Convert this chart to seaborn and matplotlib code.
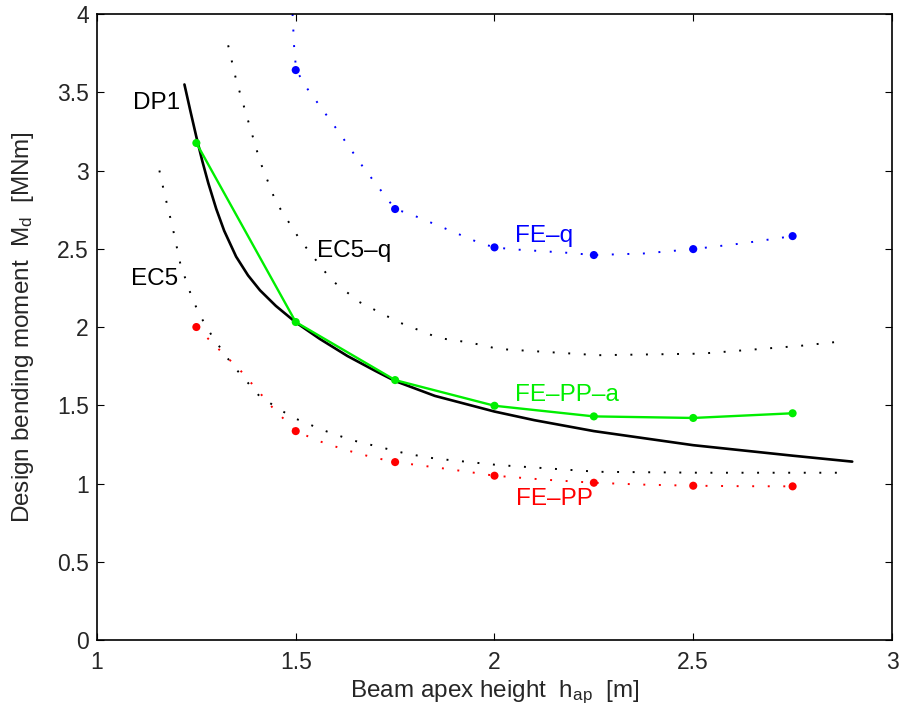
import numpy as np
import pandas as pd
import matplotlib
matplotlib.use("Agg")
import matplotlib.pyplot as plt
import seaborn as sns

# values
# DP1 (solid black curve)
dp1_x = [1.22, 1.235, 1.25, 1.265, 1.28, 1.30, 1.32, 1.35, 1.38, 1.41, 1.45, 1.50, 1.56, 1.63, 1.70, 1.75, 1.85, 2.00, 2.10, 2.25, 2.50, 2.75, 2.90]
dp1_y = [3.55, 3.38, 3.215, 3.06, 2.92, 2.755, 2.615, 2.45, 2.33, 2.235, 2.135, 2.03, 1.925, 1.815, 1.72, 1.655, 1.56, 1.46, 1.405, 1.335, 1.245, 1.178, 1.14]

# EC5-q (dotted black)
ec5q_x = [1.33, 1.35, 1.38, 1.41, 1.45, 1.51, 1.59, 1.66, 1.76, 1.86, 1.94, 2.01, 2.26, 2.52, 2.77, 2.88]
ec5q_y = [3.80, 3.58, 3.32, 3.06, 2.80, 2.56, 2.30, 2.16, 2.03, 1.93, 1.90, 1.86, 1.82, 1.83, 1.88, 1.91]

# EC5 (dotted black)
ec5_x = [1.157, 1.17, 1.19, 1.21, 1.24, 1.26, 1.29, 1.34, 1.41, 1.49, 1.57, 1.64, 1.78, 1.85, 2.01, 2.26, 2.52, 2.88]
ec5_y = [3.00, 2.85, 2.64, 2.40, 2.18, 2.07, 1.94, 1.76, 1.555, 1.425, 1.34, 1.278, 1.19, 1.16, 1.118, 1.075, 1.069, 1.069]

# FE-q (blue): markers + dotted fit curve
feq_x = [1.5, 1.75, 2.0, 2.25, 2.5, 2.75]
feq_y = [3.642, 2.754, 2.509, 2.46, 2.498, 2.581]
feq_cx = [1.492, 1.496, 1.501, 1.53, 1.61, 1.67, 1.75, 1.79, 1.89, 1.96, 2.0, 2.05, 2.18, 2.25, 2.375, 2.5, 2.625, 2.75]
feq_cy = [4.0, 3.79, 3.642, 3.52, 3.24, 3.02, 2.754, 2.72, 2.615, 2.54, 2.509, 2.496, 2.475, 2.46, 2.47, 2.498, 2.535, 2.581]

# FE-PP (red): markers + dotted fit curve
fepp_x = [1.25, 1.5, 1.75, 2.0, 2.25, 2.5, 2.75]
fepp_y = [2.0, 1.335, 1.137, 1.050, 1.005, 0.986, 0.982]
fepp_cx = [1.25, 1.30, 1.36, 1.44, 1.50, 1.56, 1.625, 1.69, 1.75, 1.87, 1.93, 2.0, 2.125, 2.25, 2.375, 2.5, 2.625, 2.75]
fepp_cy = [2.0, 1.874, 1.725, 1.49, 1.335, 1.27, 1.215, 1.17, 1.137, 1.097, 1.076, 1.050, 1.025, 1.005, 0.993, 0.986, 0.983, 0.982]

# FE-PP-a (green): solid with markers
feppa_x = [1.25, 1.5, 1.75, 2.0, 2.25, 2.5, 2.75]
feppa_y = [3.176, 2.032, 1.661, 1.497, 1.429, 1.419, 1.449]

labels = ["DP1", "EC5\u2013q", "EC5", "FE\u2013q", "FE\u2013PP\u2013a", "FE\u2013PP"]
label_x = [1.091, 1.553, 1.085, 2.052, 2.052, 2.054]
label_y = [3.391, 2.445, 2.268, 2.545, 1.529, 0.863]
label_c = ["black", "black", "black", "blue", "#00ee00", "red"]

sns.set_style("ticks")
plt.rcParams["font.family"] = ["Liberation Sans", "DejaVu Sans"]
plt.rcParams["mathtext.fontset"] = "custom"
plt.rcParams["mathtext.rm"] = "Liberation Sans"
plt.rcParams["mathtext.it"] = "Liberation Sans"

fig = plt.figure(figsize=(9.03, 7.16), dpi=100)
ax = fig.add_axes([0.1074, 0.1061, 0.8804, 0.8743])

dot = (0, (1, 7))
sns.lineplot(x=ec5q_x, y=ec5q_y, ax=ax, color="black", lw=1.4, linestyle=dot, sort=False, estimator=None)
sns.lineplot(x=ec5_x, y=ec5_y, ax=ax, color="black", lw=1.4, linestyle=dot, sort=False, estimator=None)
sns.lineplot(x=feq_cx, y=feq_cy, ax=ax, color="blue", lw=1.4, linestyle=dot, sort=False, estimator=None)
sns.lineplot(x=fepp_cx, y=fepp_cy, ax=ax, color="red", lw=1.4, linestyle=dot, sort=False, estimator=None)
sns.lineplot(x=dp1_x, y=dp1_y, ax=ax, color="black", lw=1.9, sort=False, estimator=None)
sns.lineplot(x=feppa_x, y=feppa_y, ax=ax, color="#00ee00", lw=1.7, sort=False, estimator=None)

sns.scatterplot(x=feq_x, y=feq_y, ax=ax, color="blue", s=34, edgecolor="none", zorder=5)
sns.scatterplot(x=fepp_x, y=fepp_y, ax=ax, color="red", s=34, edgecolor="none", zorder=5)
sns.scatterplot(x=feppa_x, y=feppa_y, ax=ax, color="#00ee00", s=34, edgecolor="none", zorder=5)

for t, tx, ty, c in zip(labels, label_x, label_y, label_c):
    ax.text(tx, ty, t, color=c, fontsize=17.5, ha="left", va="baseline")

ax.set_xlim(1, 3)
ax.set_ylim(0, 4)
ax.set_xticks([1, 1.5, 2, 2.5, 3])
ax.set_xticklabels(["1", "1.5", "2", "2.5", "3"])
ax.set_yticks([0, 0.5, 1, 1.5, 2, 2.5, 3, 3.5, 4])
ax.set_yticklabels(["0", "0.5", "1", "1.5", "2", "2.5", "3", "3.5", "4"])
ax.tick_params(direction="in", length=5, width=0.8, top=True, right=True,
               labelsize=16.5, color="black")
ax.tick_params(axis="x", pad=8)
ax.tick_params(axis="y", pad=6)
for s in ax.spines.values():
    s.set_visible(True)
    s.set_linewidth(1.2)
    s.set_color("black")

ax.set_xlabel(r"Beam apex height  h$_{\mathrm{ap}}$  [m]", fontsize=17.5, labelpad=3)
ax.set_ylabel(r"Design bending moment  M$_{\mathrm{d}}$  [MNm]", fontsize=17.5, labelpad=15)

fig.savefig("out.png", dpi=100)
